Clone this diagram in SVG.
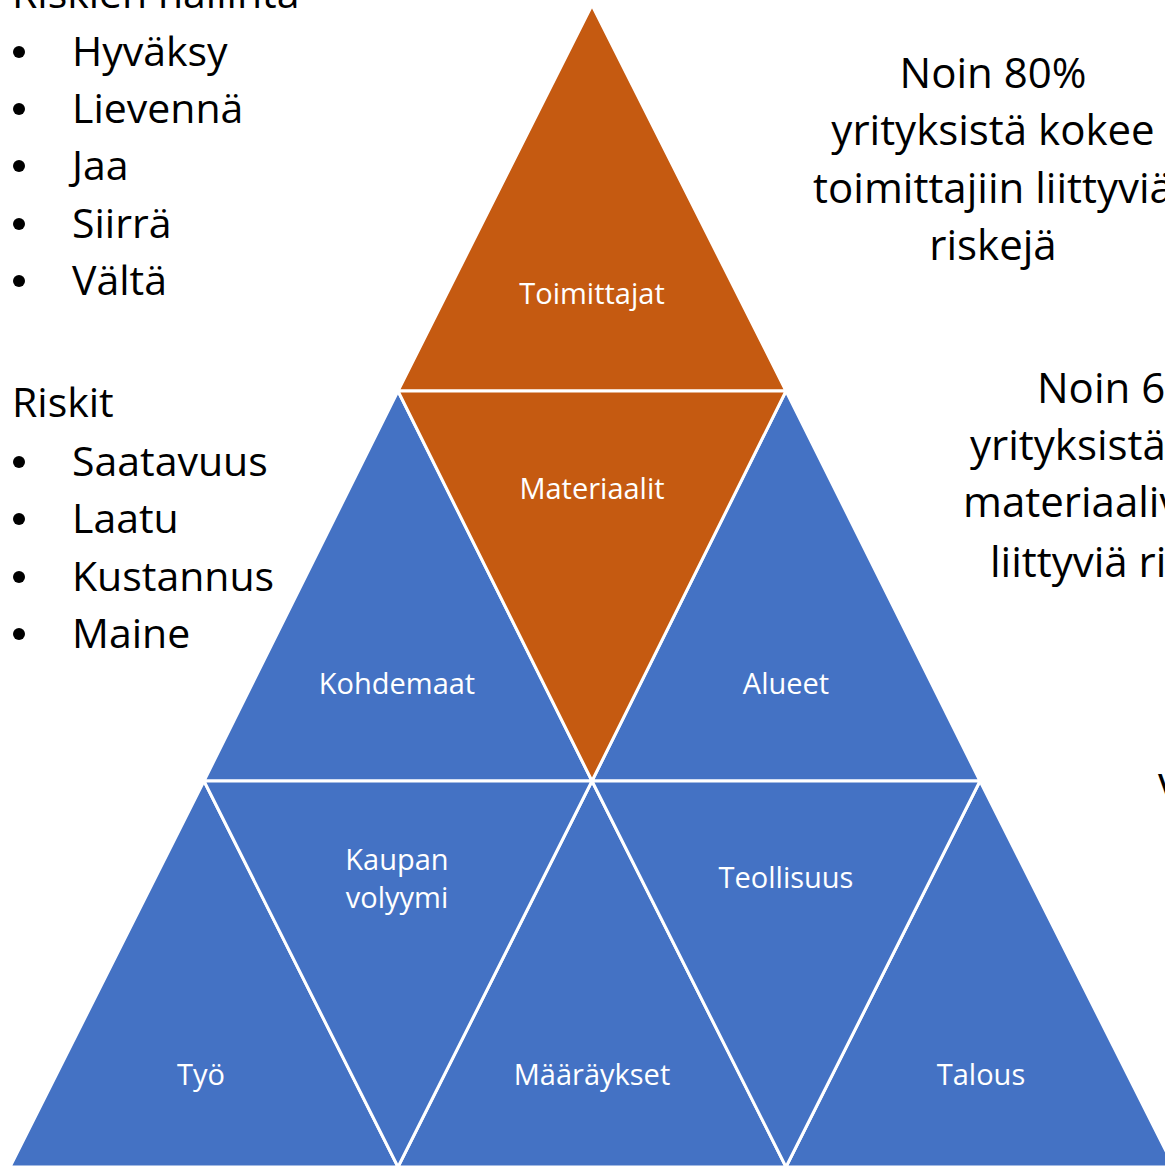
<svg xmlns="http://www.w3.org/2000/svg" width="1165" height="1167" viewBox="0 0 1165 1167">
<style>
.o{fill:#C55A11;stroke:#fff;stroke-width:3;stroke-linejoin:miter}
.b{fill:#4472C4;stroke:#fff;stroke-width:3;stroke-linejoin:miter}
.l{font-family:"Open Sans","Liberation Sans",sans-serif;font-size:29px;fill:#fff;text-anchor:middle}
.t{font-family:"Open Sans","Liberation Sans",sans-serif;font-size:42px;fill:#000}
.s{font-size:41px}
.c{text-anchor:middle}
.bu{fill:#000}
</style>
<rect width="1165" height="1167" fill="#fff"/>
<g id="pyramid">
<g id="n-toimittajat"><polygon class="o" points="592,5 398,391 786,391"/><text class="l" x="592" y="304">Toimittajat</text></g>
<g id="n-kohdemaat"><polygon class="b" points="398,391 204,781 592,781"/><text class="l" x="397" y="694">Kohdemaat</text></g>
<g id="n-alueet"><polygon class="b" points="786,391 592,781 980,781"/><text class="l" x="786" y="694">Alueet</text></g>
<g id="n-materiaalit"><polygon class="o" points="398,391 786,391 592,781"/><text class="l" x="592" y="499">Materiaalit</text></g>
<g id="n-tyo"><polygon class="b" points="204,781 10,1167 398,1167"/><text class="l" x="201" y="1085">Työ</text></g>
<g id="n-maaraykset"><polygon class="b" points="592,781 398,1167 786,1167"/><text class="l" x="592" y="1085">Määräykset</text></g>
<g id="n-talous"><polygon class="b" points="980,781 786,1167 1174,1167"/><text class="l" x="981" y="1085">Talous</text></g>
<g id="n-kaupan"><polygon class="b" points="204,781 592,781 398,1167"/><text class="l" x="397" y="870">Kaupan</text><text class="l" x="397" y="908">volyymi</text></g>
<g id="n-teollisuus"><polygon class="b" points="592,781 980,781 786,1167"/><text class="l" x="786" y="888">Teollisuus</text></g>
</g>
<g id="connectors"></g>
<g id="bullets" class="bu">
<circle cx="19" cy="52" r="6"/><circle cx="19" cy="109" r="6"/><circle cx="19" cy="166" r="6"/><circle cx="19" cy="224" r="6"/><circle cx="19" cy="281" r="6"/>
<circle cx="19" cy="462" r="6"/><circle cx="19" cy="519" r="6"/><circle cx="19" cy="577" r="6"/><circle cx="19" cy="634" r="6"/>
</g>
<g id="left-text" class="t s">
<text x="12" y="8">Riskien hallinta</text>
<text x="72" y="66">Hyväksy</text>
<text x="72" y="123">Lievennä</text>
<text x="72" y="180">Jaa</text>
<text x="72" y="238">Siirrä</text>
<text x="72" y="295">Vältä</text>
<text x="12" y="417">Riskit</text>
<text x="72" y="476">Saatavuus</text>
<text x="72" y="533">Laatu</text>
<text x="72" y="591">Kustannus</text>
<text x="72" y="648">Maine</text>
</g>
<g id="right-text" class="t">
<text class="c" x="993" y="88">Noin 80%</text>
<text class="c" x="993" y="145">yrityksistä kokee</text>
<text class="c" x="993" y="203">toimittajiin liittyviä</text>
<text class="c" x="993" y="260">riskejä</text>
<text x="1037" y="403">Noin 60%</text>
<text x="970" y="460">yrityksistä</text>
<text x="963" y="517">materiaaliv</text>
<text x="990" y="577">liittyviä ri</text>
<text x="1158" y="804">V</text>
</g>
</svg>
